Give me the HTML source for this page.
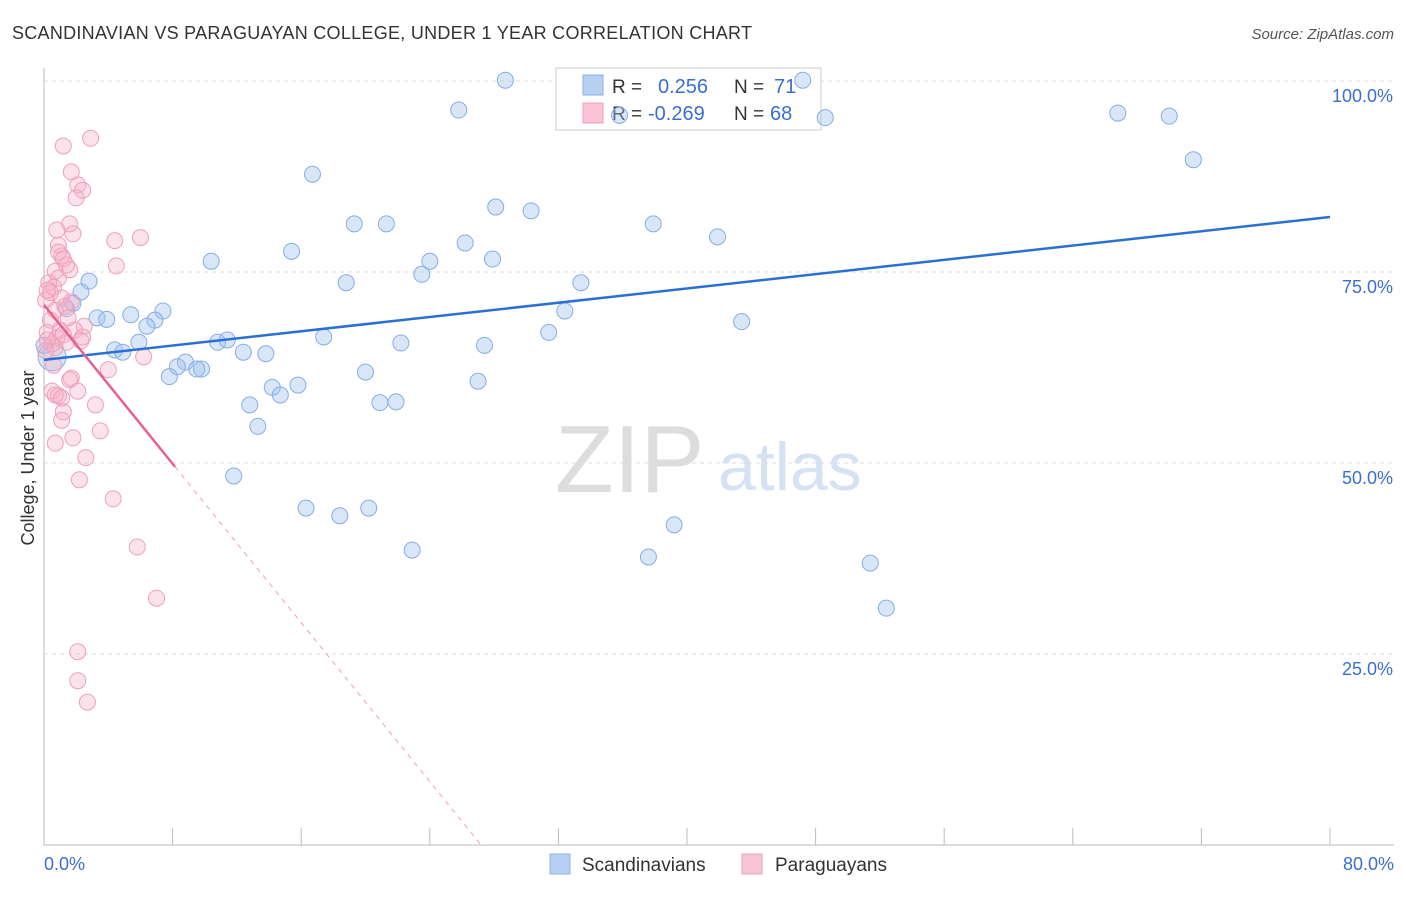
<!DOCTYPE html>
<html><head><meta charset="utf-8"><style>
body{margin:0;background:#fff;font-family:"Liberation Sans",sans-serif;}
svg text{font-family:"Liberation Sans",sans-serif;}
</style></head><body>
<svg id="chart" width="1406" height="892" viewBox="0 0 1406 892">
<text x="12" y="39" font-size="18" fill="#333" textLength="740">SCANDINAVIAN VS PARAGUAYAN COLLEGE, UNDER 1 YEAR CORRELATION CHART</text>
<text x="1394" y="39" font-size="15" fill="#555" font-style="italic" text-anchor="end">Source: ZipAtlas.com</text>
<text x="34" y="458" font-size="18" fill="#333" text-anchor="middle" transform="rotate(-90 34 458)">College, Under 1 year</text>
<text x="555" y="492" font-size="96" fill="#ddd" font-family="Liberation Serif,serif">ZIP</text>
<text x="718" y="490" font-size="68" fill="#d4e2f4">atlas</text>
<g id="grid"></g>
<g>
<rect x="556" y="68" width="265" height="62" fill="#fff" stroke="#ccc"/>
<rect x="583" y="75" width="20" height="20" fill="#b8d0f4" stroke="#8ab0e6"/>
<rect x="583" y="103" width="20" height="20" fill="#f9c4d4" stroke="#f0a0b8"/>
<text x="612" y="93" font-size="19" fill="#333">R =</text>
<text x="658" y="93" font-size="20" fill="#3a6fd0">0.256</text>
<text x="734" y="93" font-size="19" fill="#333">N =</text>
<text x="774" y="93" font-size="20" fill="#3a6fd0">71</text>
<text x="612" y="120" font-size="19" fill="#333">R =</text>
<text x="648" y="120" font-size="20" fill="#3a6fd0">-0.269</text>
<text x="734" y="120" font-size="19" fill="#333">N =</text>
<text x="770" y="120" font-size="20" fill="#3a6fd0">68</text>
</g>
<g id="marks"></g>
<g>
<rect x="550" y="854" width="20" height="20" fill="#b8d0f4" stroke="#8ab0e6"/>
<text x="582" y="871" font-size="19" fill="#333">Scandinavians</text>
<rect x="742" y="854" width="20" height="20" fill="#f9c4d4" stroke="#f0a0b8"/>
<text x="775" y="871" font-size="19" fill="#333">Paraguayans</text>
</g>
</svg>
<script>
const xTicks=[0,8,16,24,32,40,48,56,64,72,80];
const yTicks=[25,50,75,100];
const yTickLabels=["25.0%","50.0%","75.0%","100.0%"];
const xEndLabels=["0.0%","80.0%"];
const blueX=[28.7,25.8,47.2,48.6,35.8,66.8,70.0,71.5,16.7,28.1,30.3,19.3,21.3,37.9,41.9,26.2,15.4,10.4,24.0,27.9,23.5,18.8,33.4,2.8,2.3,1.8,1.4,3.3,3.9,5.4,7.4,6.9,6.4,32.4,43.4,17.4,5.9,10.8,11.4,22.2,27.4,31.4,4.4,4.9,12.4,13.8,8.8,8.3,9.8,9.5,7.8,20.0,27.0,14.2,15.8,14.7,12.8,20.9,21.9,13.3,11.8,16.3,18.4,20.2,22.9,37.6,39.2,51.4,52.4,0.5,0];
const blueY=[100.1,96.2,100.1,95.2,95.5,95.8,95.4,89.7,87.8,83.5,83.0,81.3,81.3,81.3,79.6,78.8,77.7,76.4,76.4,76.7,74.7,73.6,73.6,73.8,72.4,70.9,70.2,69.0,68.8,69.4,69.9,68.7,67.9,69.9,68.5,66.5,65.8,65.8,66.1,65.7,65.4,67.1,64.8,64.5,64.5,64.3,63.2,62.6,62.3,62.3,61.3,61.9,60.7,59.9,60.2,58.9,57.6,57.9,58.0,54.8,48.3,44.1,43.1,44.1,38.6,37.7,41.9,36.9,31.0,63.9,65.4];
const pinkX=[2.9,1.2,1.7,2.1,2.4,2.0,1.6,0.8,1.8,0.9,4.4,6.0,1.1,1.2,1.4,4.5,0.7,0.9,0.3,0.6,0.4,1.1,1.7,0.7,1.3,2.5,1.9,0.2,0.8,2.4,2.3,1.4,0.5,0.7,6.2,4.0,1.7,1.6,2.1,0.5,0.9,1.1,3.2,1.2,1.1,1.8,3.5,0.7,2.6,2.2,4.3,5.8,7.0,2.1,2.1,2.7,0.4,0.2,0.1,0.7,1.0,1.2,0.1,0.6,1.5,0.2,0.9,1.6];
const pinkY=[92.5,91.5,88.1,86.4,85.7,84.7,81.3,80.5,80.0,78.5,79.1,79.5,77.1,76.7,75.9,75.8,75.1,74.2,73.6,73.0,72.3,71.6,71.1,70.0,70.5,67.9,67.4,67.1,66.4,66.5,66.0,65.8,65.6,65.1,63.9,62.2,61.1,60.9,59.4,59.4,58.8,58.5,57.6,56.7,55.6,53.3,54.2,52.6,50.7,47.8,45.3,39.0,32.3,25.3,21.5,18.7,68.7,66.1,64.7,58.9,67.4,66.8,71.3,62.8,69.0,72.6,77.6,75.3];
const blueTrend=[63.5,82.2];
const pinkTrend=[70.7,-2.6];
const pinkSolidEnd=8.15;

const X=v=>44+v*16.075, Y=v=>845-v*7.64;
const NS="http://www.w3.org/2000/svg";
function mk(tag,attrs,parent){const e=document.createElementNS(NS,tag);for(const k in attrs)e.setAttribute(k,attrs[k]);parent.appendChild(e);return e;}
const grid=document.getElementById('grid'),marks=document.getElementById('marks');
yTicks.forEach((t,i)=>{
 const l=mk('line',{x1:44,x2:1394,y1:Y(t),y2:Y(t),stroke:'#ddd','stroke-dasharray':'4,4'},grid);
 
 
 const tx=mk('text',{x:1393,y:Y(t)+21,'font-size':18,fill:'#3a6fd0','text-anchor':'end'},grid);
 tx.textContent=yTickLabels[i];
 
 
});
const ax=mk('line',{x1:44,x2:1394,y1:845,y2:845,stroke:'#bbb'},grid);


const ay=mk('line',{x1:44,x2:44,y1:68,y2:845,stroke:'#bbb'},grid);


xTicks.forEach(t=>{
 const l=mk('line',{x1:X(t),x2:X(t),y1:828,y2:845,stroke:'#bbb'},grid);
 
 
});
[[0,'start',44],[80,'end',1394]].forEach((a,i)=>{
 const tx=mk('text',{x:a[2],y:870,'font-size':18,fill:'#3a6fd0','text-anchor':a[1]},grid);
 tx.textContent=xEndLabels[i];
 
 
});
blueX.forEach((x,i)=>{
 const c=mk('circle',{cx:X(x),cy:Y(blueY[i]),r:(i==blueX.length-2)?14:8,fill:'rgba(160,192,238,0.4)',stroke:'#86ade6','stroke-width':1},marks);
 
 
});
pinkX.forEach((x,i)=>{
 const c=mk('circle',{cx:X(x),cy:Y(pinkY[i]),r:8,fill:'rgba(245,175,198,0.35)',stroke:'#eea0b8','stroke-width':1},marks);
 
 
});
const bl=mk('line',{x1:X(0),y1:Y(blueTrend[0]),x2:X(80),y2:Y(blueTrend[1]),stroke:'#2a6fd6','stroke-width':2.5},marks);


const pEnd=-pinkTrend[0]/pinkTrend[1];
const pl=mk('line',{x1:X(0),y1:Y(pinkTrend[0]),x2:X(pinkSolidEnd),y2:Y(pinkTrend[0]+pinkTrend[1]*pinkSolidEnd),stroke:'#e8608c','stroke-width':2.5},marks);


const pd=mk('line',{x1:X(pinkSolidEnd),y1:Y(pinkTrend[0]+pinkTrend[1]*pinkSolidEnd),x2:X(pEnd),y2:Y(0),stroke:'#eba0b8','stroke-width':1,'stroke-dasharray':'5,5'},marks);


</script>
</body></html>
